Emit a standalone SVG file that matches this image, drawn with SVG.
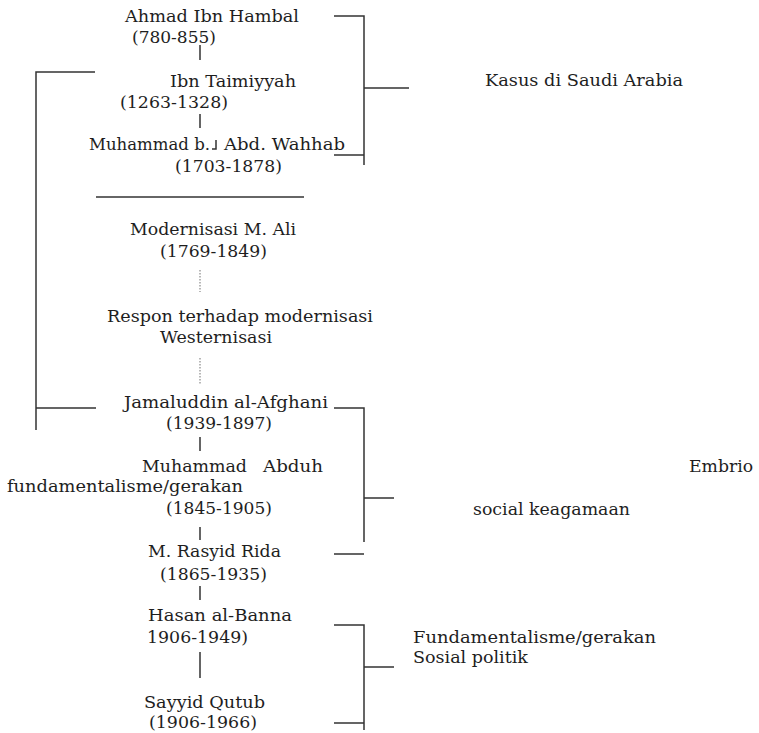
<svg xmlns="http://www.w3.org/2000/svg" width="759" height="733" viewBox="0 0 759 733">
<style>
text{font-family:"DejaVu Serif","Liberation Serif",serif;font-size:17px;fill:#1e1e1e}
.ln{stroke:#333;stroke-width:1.5;fill:none}
.dt{stroke:#888;stroke-width:1.2;stroke-dasharray:1.5 1.5;fill:none}
</style>
<rect width="759" height="733" fill="#fff"/>
<g id="connectors">
<path class="ln" d="M334 16H364V165M334 155H364M364 88H409"/>
<path class="ln" d="M95 72H36V430M36 408H96"/>
<path class="ln" d="M96 197H304"/>
<path class="ln" d="M200 45V60M200 114V128M216 140V149H212"/>
<path class="dt" d="M200 270V292M200 358V384"/>
<path class="ln" d="M334 408H364V542M334 554H364M364 498H394"/>
<path class="ln" d="M200 437V451M200 527V540M200 586V600M200 652V678"/>
<path class="ln" d="M334 625H364V730M334 723H364M364 667H394"/>
</g>
<g id="n-hambal"><text x="125" y="22" textLength="174" lengthAdjust="spacingAndGlyphs">Ahmad Ibn Hambal</text><text x="132" y="43" textLength="84" lengthAdjust="spacingAndGlyphs">(780-855)</text></g>
<g id="n-taimiyyah"><text x="170" y="87" textLength="126" lengthAdjust="spacingAndGlyphs">Ibn Taimiyyah</text><text x="120" y="108" textLength="108" lengthAdjust="spacingAndGlyphs">(1263-1328)</text></g>
<g id="n-wahhab"><text x="89" y="150" textLength="121" lengthAdjust="spacingAndGlyphs">Muhammad b.</text><text x="224" y="150" textLength="121" lengthAdjust="spacingAndGlyphs">Abd. Wahhab</text><text x="175" y="172" textLength="107" lengthAdjust="spacingAndGlyphs">(1703-1878)</text></g>
<g id="n-saudi"><text x="485" y="86" textLength="198" lengthAdjust="spacingAndGlyphs">Kasus di Saudi Arabia</text></g>
<g id="n-ali"><text x="130" y="235" textLength="166" lengthAdjust="spacingAndGlyphs">Modernisasi M. Ali</text><text x="160" y="257" textLength="107" lengthAdjust="spacingAndGlyphs">(1769-1849)</text></g>
<g id="n-respon"><text x="107" y="322" textLength="266" lengthAdjust="spacingAndGlyphs">Respon terhadap modernisasi</text><text x="160" y="343" textLength="112" lengthAdjust="spacingAndGlyphs">Westernisasi</text></g>
<g id="n-afghani"><text x="124" y="408" textLength="204" lengthAdjust="spacingAndGlyphs">Jamaluddin al-Afghani</text><text x="166" y="429" textLength="106" lengthAdjust="spacingAndGlyphs">(1939-1897)</text></g>
<g id="n-abduh"><text x="142" y="472" textLength="105" lengthAdjust="spacingAndGlyphs">Muhammad</text><text x="263" y="472" textLength="60" lengthAdjust="spacingAndGlyphs">Abduh</text><text x="7" y="492" textLength="236" lengthAdjust="spacingAndGlyphs">fundamentalisme/gerakan</text><text x="166" y="514" textLength="106" lengthAdjust="spacingAndGlyphs">(1845-1905)</text></g>
<g id="n-rida"><text x="148" y="557" textLength="133" lengthAdjust="spacingAndGlyphs">M. Rasyid Rida</text><text x="160" y="580" textLength="107" lengthAdjust="spacingAndGlyphs">(1865-1935)</text></g>
<g id="n-embrio"><text x="689" y="472" textLength="64" lengthAdjust="spacingAndGlyphs">Embrio</text><text x="473" y="515" textLength="157" lengthAdjust="spacingAndGlyphs">social keagamaan</text></g>
<g id="n-banna"><text x="148" y="621" textLength="144" lengthAdjust="spacingAndGlyphs">Hasan al-Banna</text><text x="147" y="643" textLength="101" lengthAdjust="spacingAndGlyphs">1906-1949)</text></g>
<g id="n-qutub"><text x="144" y="708" textLength="121" lengthAdjust="spacingAndGlyphs">Sayyid Qutub</text><text x="149" y="728" textLength="108" lengthAdjust="spacingAndGlyphs">(1906-1966)</text></g>
<g id="n-politik"><text x="413" y="643" textLength="243" lengthAdjust="spacingAndGlyphs">Fundamentalisme/gerakan</text><text x="413" y="663" textLength="115" lengthAdjust="spacingAndGlyphs">Sosial politik</text></g>
</svg>
